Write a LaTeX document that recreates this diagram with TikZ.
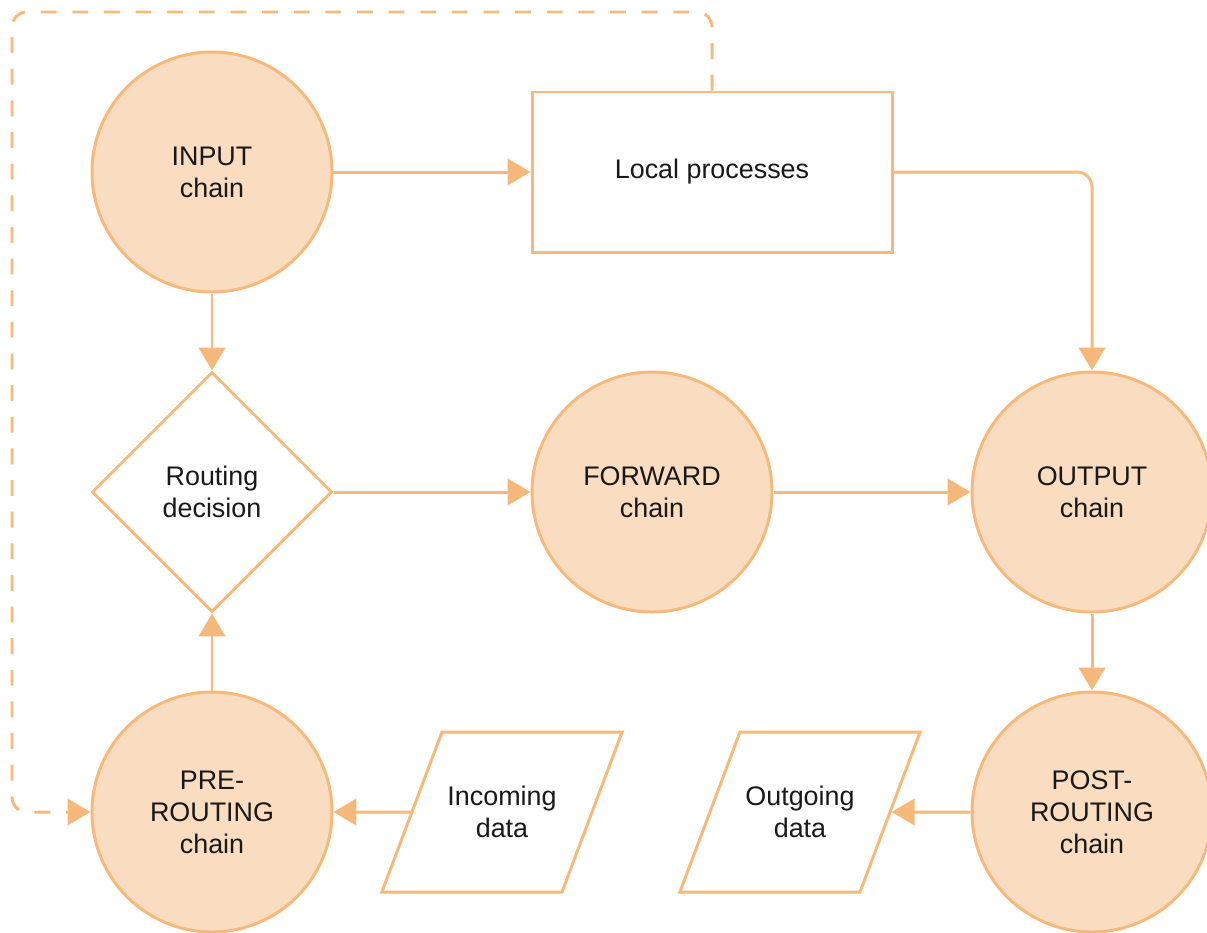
\documentclass[tikz,border=0pt]{standalone}
\usepackage{fontspec}
\setmainfont{Liberation Sans}
\usepackage{xcolor}
\usepackage{tikz}
\usetikzlibrary{shapes.geometric, arrows.meta}
\definecolor{ChainFill}{HTML}{FADDC0}
\definecolor{ChainLine}{HTML}{F6B97C}
\newcommand{\iobody}[1]{\parbox[c][3.2cm][c]{2.4cm}{\centering #1}}

\begin{document}
\begin{tikzpicture}[
  chain/.style={draw=ChainLine, line width=1.7pt, circle, fill=ChainFill, minimum size=4.8cm, inner sep=0pt, align=center},
  proc/.style={draw=ChainLine, line width=1.7pt, rectangle, fill=white, minimum width=7.2cm, minimum height=3.2cm, align=center},
  decision/.style={draw=ChainLine, line width=1.7pt, diamond, fill=white, minimum width=4.8cm, minimum height=4.8cm, inner sep=0pt, align=center},
  io/.style={draw=ChainLine, line width=1.7pt, trapezium, trapezium left angle=69.4, trapezium right angle=110.6, fill=white, inner sep=0pt},
  arr/.style={-{Triangle[length=13pt, width=15pt]}, draw=ChainLine, line width=1.7pt},
  dasharr/.style={arr, dash pattern=on 9pt off 9pt, rounded corners=0.3cm},
  every node/.style={font=\fontsize{15.3pt}{18.2pt}\selectfont, text=black!90}
]
\useasboundingbox (0,0) rectangle (24.14,-18.64);
\node[chain] (input) at (4.24,-3.44) {INPUT\\chain};
\node[proc] (local) at (14.24,-3.44) {Local processes};
\node[decision] (routing) at (4.24,-9.84) {Routing\\decision};
\node[chain] (forward) at (13.04,-9.84) {FORWARD\\chain};
\node[chain] (output) at (21.84,-9.84) {OUTPUT\\chain};
\node[chain] (prerouting) at (4.24,-16.24) {PRE-\\ROUTING\\chain};
\node[chain] (postrouting) at (21.84,-16.24) {POST-\\ROUTING\\chain};
\node[io] (incoming) at (10.04,-16.24) {\iobody{Incoming\\data}};
\node[io] (outgoing) at (16.0,-16.24) {\iobody{Outgoing\\data}};
\coordinate (loopcorner) at (0.24,-0.24);

\draw[arr] (input) -- (local);
\draw[arr, rounded corners=0.3cm] (local.east) -| (output.north);
\draw[arr] (input) -- (routing);
\draw[arr] (prerouting) -- (routing);
\draw[arr] (routing) -- (forward);
\draw[arr] (forward) -- (output);
\draw[arr] (output) -- (postrouting);
\draw[arr] (postrouting) -- (outgoing);
\draw[arr] (incoming) -- (prerouting);
\draw[dasharr] (local.north) |- (loopcorner) |- (prerouting.west);
\end{tikzpicture}
\end{document}
